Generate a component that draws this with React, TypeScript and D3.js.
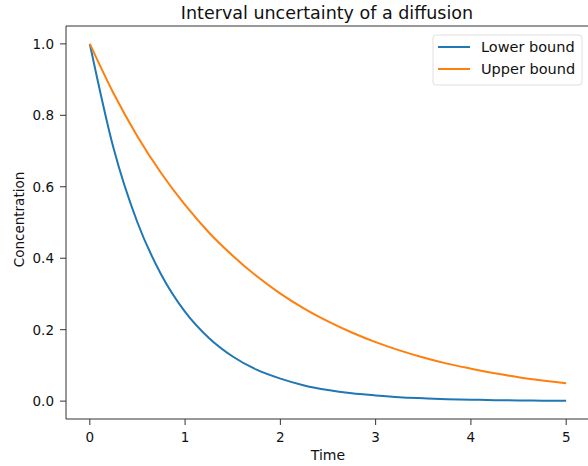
import React from "react";
import * as d3 from "d3";

const times = [0, 0.25, 0.5, 0.75, 1, 1.25, 1.5, 1.75, 2, 2.25, 2.5, 2.75, 3, 3.25, 3.5, 3.75, 4, 4.25, 4.5, 4.75, 5];
const lowerBound = [1.0, 0.707, 0.5, 0.354, 0.25, 0.177, 0.125, 0.088, 0.063, 0.044, 0.031, 0.022, 0.016, 0.011, 0.008, 0.0055, 0.004, 0.0028, 0.002, 0.0014, 0.001];
const upperBound = [1.0, 0.861, 0.741, 0.638, 0.549, 0.472, 0.407, 0.35, 0.301, 0.259, 0.223, 0.192, 0.165, 0.142, 0.122, 0.105, 0.091, 0.078, 0.067, 0.058, 0.05];
const xTicks = [0, 1, 2, 3, 4, 5];
const yTicks = [0.0, 0.2, 0.4, 0.6, 0.8, 1.0];
const seriesNames = ["Lower bound", "Upper bound"];
const seriesColors = ["#1f77b4", "#ff7f0e"];

const W = 588;
const H = 466;
const left = 66;
const right = 590;
const top = 26;
const bottom = 419;
const font = "DejaVu Sans, sans-serif";

export default function App() {
  const x = d3.scaleLinear().domain([-0.25, 5.25]).range([left, right]);
  const y = d3.scaleLinear().domain([-0.05, 1.05]).range([bottom, top]);
  const line = d3
    .line<number>()
    .x((_, i) => x(times[i]))
    .y((d) => y(d))
    .curve(d3.curveMonotoneX);
  const series = [lowerBound, upperBound];
  const axisColor = "#333";
  return (
    <svg width={W} height={H} style={{ position: "absolute", left: 0, top: 0, background: "#fff" }}>
      <rect x={0} y={0} width={W} height={H} fill="#fff" />
      <text x={327} y={19} textAnchor="middle" fontFamily={font} fontSize={17.5} fill="#111">
        Interval uncertainty of a diffusion
      </text>
      {series.map((s, k) => (
        <path key={k} d={line(s) || ""} fill="none" stroke={seriesColors[k]} strokeWidth={2} />
      ))}
      <line x1={left} x2={right} y1={top} y2={top} stroke={axisColor} strokeWidth={1} />
      <line x1={left} x2={left} y1={top} y2={bottom} stroke={axisColor} strokeWidth={1} />
      <line x1={left} x2={right} y1={bottom} y2={bottom} stroke={axisColor} strokeWidth={1} />
      <line x1={right} x2={right} y1={top} y2={bottom} stroke={axisColor} strokeWidth={1} />
      {xTicks.map((t) => (
        <g key={t}>
          <line x1={x(t)} x2={x(t)} y1={bottom} y2={bottom + 6} stroke={axisColor} />
          <text x={x(t)} y={bottom + 23} textAnchor="middle" fontFamily={font} fontSize={13.5} fill="#111">
            {t}
          </text>
        </g>
      ))}
      {yTicks.map((t) => (
        <g key={t}>
          <line x1={left - 6} x2={left} y1={y(t)} y2={y(t)} stroke={axisColor} />
          <text x={left - 12} y={y(t) + 5} textAnchor="end" fontFamily={font} fontSize={13.5} fill="#111">
            {t.toFixed(1)}
          </text>
        </g>
      ))}
      <text x={328} y={460} textAnchor="middle" fontFamily={font} fontSize={14} fill="#111">
        Time
      </text>
      <text
        transform={`translate(24,${(173 + 266) / 2}) rotate(-90)`}
        textAnchor="middle"
        fontFamily={font}
        fontSize={13.5}
        fill="#111"
      >
        Concentration
      </text>
      <rect x={433} y={35} width={149} height={50} rx={3} fill="#fff" stroke="#ddd" strokeWidth={1} opacity={0.9} />
      {seriesNames.map((n, k) => (
        <g key={n}>
          <line x1={438} x2={470} y1={47 + k * 22} y2={47 + k * 22} stroke={seriesColors[k]} strokeWidth={2} />
          <text x={481} y={52 + k * 22} fontFamily={font} fontSize={14.5} fill="#111">
            {n}
          </text>
        </g>
      ))}
    </svg>
  );
}
